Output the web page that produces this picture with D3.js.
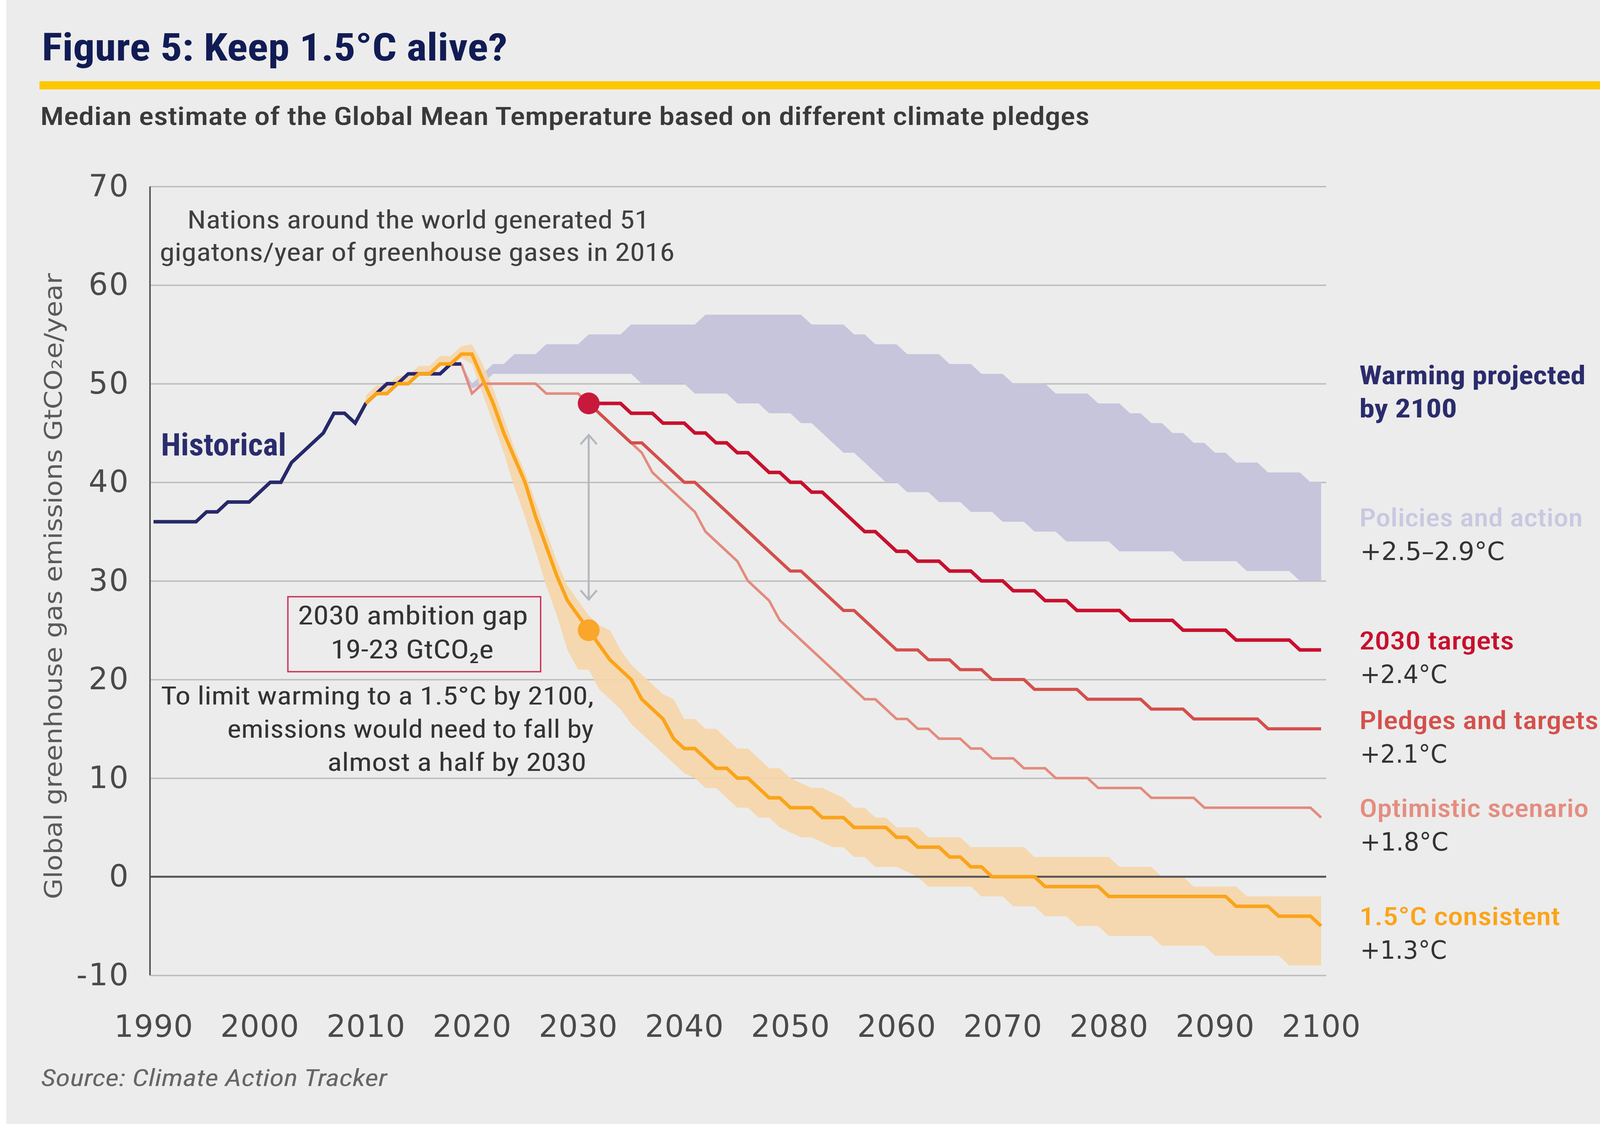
<!DOCTYPE html>
<html>
<head>
<meta charset="utf-8">
<script src="https://cdn.jsdelivr.net/npm/d3@7"></script>
<style>
  html, body { margin: 0; padding: 0; background: #ffffff; }
  svg { display: block; }
</style>
</head>
<body>
<svg id="chart" width="4224" height="2891"></svg>
<script>
// ---- data (GtCO2e/year, one value per year) ----
var xTicks = [1990, 2000, 2010, 2020, 2030, 2040, 2050, 2060, 2070, 2080, 2090, 2100];
var yTicks = [-10, 0, 10, 20, 30, 40, 50, 60, 70];

var histStart = 1990;
var historical = [36, 36, 36, 36, 36, 37, 37, 38, 38, 38, 39, 40, 40, 42, 43, 44, 45, 47, 47, 46,
                  48, 49, 50, 50, 51, 51, 51, 51, 52, 52];

// current policies and action range
var policyStart = 2019;
var policyLow = [52, 49.5, 50, 51, 51, 51, 51, 51, 51, 51, 51, 51, 51, 51, 51, 51, 51,
                 50, 50, 50, 50, 50, 49, 49, 49, 49, 48, 48, 48, 47, 47, 47, 46, 46,
                 45, 44, 43, 43, 42, 41, 40, 40, 39, 39, 39, 38, 38, 38, 37, 37, 37,
                 36, 36, 36, 35, 35, 35, 34, 34, 34, 34, 34, 33, 33, 33, 33, 33, 33,
                 32, 32, 32, 32, 32, 32, 31, 31, 31, 31, 31, 30, 30, 30];
var policyHigh = [52, 50, 51, 52, 52, 53, 53, 53, 54, 54, 54, 54, 55, 55, 55, 55,
                  56, 56, 56, 56, 56, 56, 56, 57, 57, 57, 57, 57, 57, 57, 57, 57, 57,
                  56, 56, 56, 56, 55, 55, 54, 54, 54, 53, 53, 53, 53, 52, 52, 52,
                  51, 51, 51, 50, 50, 50, 50, 49, 49, 49, 49, 48, 48, 48, 47, 47,
                  46, 46, 45, 45, 44, 44, 43, 43, 42, 42, 42, 41, 41, 41, 41, 40, 40];

// path shared by the pledge scenarios up to 2031
var sharedStart = 2019;
var sharedPath = [52, 49, 50, 50, 50, 50, 50, 50, 49, 49, 49, 49, 48];

var scenStart = 2031;
var targets2030 = [48, 48, 48, 48, 47, 47, 47, 46, 46, 46, 45, 45, 44, 44, 43, 43, 42, 41, 41, 40,
                   40, 39, 39, 38, 37, 36, 35, 35, 34, 33, 33, 32, 32, 32, 31, 31, 31, 30, 30, 30,
                   29, 29, 29, 28, 28, 28, 27, 27, 27, 27, 27, 26, 26, 26, 26, 26, 25, 25, 25, 25,
                   25, 24, 24, 24, 24, 24, 24, 23, 23, 23];
var pledges = [48, 47, 46, 45, 44, 44, 43, 42, 41, 40, 40, 39, 38, 37, 36, 35, 34, 33, 32, 31,
               31, 30, 29, 28, 27, 27, 26, 25, 24, 23, 23, 23, 22, 22, 22, 21, 21, 21, 20, 20,
               20, 20, 19, 19, 19, 19, 19, 18, 18, 18, 18, 18, 18, 17, 17, 17, 17, 16, 16, 16,
               16, 16, 16, 16, 15, 15, 15, 15, 15, 15];
var optimistic = [48, 47, 46, 45, 44, 43, 41, 40, 39, 38, 37, 35, 34, 33, 32, 30, 29, 28, 26, 25,
                  24, 23, 22, 21, 20, 19, 18, 18, 17, 16, 16, 15, 15, 14, 14, 14, 13, 13, 12, 12,
                  12, 11, 11, 11, 10, 10, 10, 10, 9, 9, 9, 9, 9, 8, 8, 8, 8, 8, 7, 7,
                  7, 7, 7, 7, 7, 7, 7, 7, 7, 6];

// 1.5C consistent pathway: median and range
var c15Start = 2010;
var c15Mid = [48, 49, 49, 50, 50, 51, 51, 52, 52, 53,
              53, 50.5, 48, 45, 42.5, 40, 36.5, 33.5, 30.5, 28,
              26.5, 25, 23.5, 22, 21, 20, 18, 17, 16, 14,
              13, 13, 12, 11, 11, 10, 10, 9, 8, 8,
              7, 7, 7, 6, 6, 6, 5, 5, 5, 5,
              4, 4, 3, 3, 3, 2, 2, 1, 1, 0,
              0, 0, 0, 0, -1, -1, -1, -1, -1, -1,
              -2, -2, -2, -2, -2, -2, -2, -2, -2, -2,
              -2, -2, -3, -3, -3, -3, -4, -4, -4, -4, -5];
var c15High = [48.8, 49.8, 49.8, 50.8, 50.8, 51.8, 51.8, 52.8, 52.8, 53.8,
               54, 52, 49.5, 46.5, 43.5, 41, 38, 35, 32, 29.5,
               28, 26.5, 25.5, 25, 23, 21.5, 20.5, 19.5, 18.5, 18,
               16, 16, 15, 15, 14, 13, 13, 12, 11, 11,
               10, 9.5, 9, 9, 8.5, 8, 7, 7, 6, 6,
               5, 5, 5, 4, 4, 4, 4, 3, 3, 3,
               3, 3, 3, 2, 2, 2, 2, 2, 2, 2,
               2, 1, 1, 1, 1, 0, 0, 0, -1, -1,
               -1, -1, -1, -2, -2, -2, -2, -2, -2, -2, -2];
var c15Low = [47.8, 48.8, 48.8, 49.8, 49.8, 50.8, 50.8, 51.8, 51.8, 52.6,
              52, 49, 46, 43, 39.5, 36.5, 33, 29.5, 26.5, 23,
              21, 21, 19, 18, 17, 15.5, 14.5, 13.5, 12.5, 11.5,
              10.5, 10, 9, 9, 8, 7, 7, 6, 6, 5,
              4.5, 4, 4, 3.5, 3, 3, 2, 2, 1, 1,
              1, 0.5, 0, -1, -1, -1, -1, -1, -2, -2,
              -2, -3, -3, -3, -4, -4, -4, -5, -5, -5,
              -6, -6, -6, -6, -6, -7, -7, -7, -7, -7,
              -8, -8, -8, -8, -8, -8, -8, -9, -9, -9, -9];

// 2030 ambition gap marker
var gapYear = 2031;
var gapArrow = [44.8, 28.1];

var scenarioNames = ["Warming projected\nby 2100", "Policies and action", "2030 targets",
                     "Pledges and targets", "Optimistic scenario", "1.5\u00B0C consistent"];
var scenarioTemps = ["", "+2.5\u20132.9\u00B0C", "+2.4\u00B0C", "+2.1\u00B0C", "+1.8\u00B0C", "+1.3\u00B0C"];

// ---- setup ----
var svg = d3.select("#chart");
var narrow = "'Liberation Sans Narrow', 'Arial Narrow', 'Roboto Condensed', Roboto, 'Liberation Sans', Arial, sans-serif";
var wide = "'DejaVu Sans', Verdana, sans-serif";

var x = d3.scaleLinear().domain([1990, 2100]).range([393, 3382]);
var y = d3.scaleLinear().domain([-10, 70]).range([2497.5, 477.5]);
var axisX = 384, gridEnd = 3395;

function pts(start, arr) { return arr.map(function(v, i) { return [start + i, v]; }); }
function band(start, lo, hi) { return lo.map(function(v, i) { return { yr: start + i, lo: v, hi: hi[i] }; }); }

// squeeze or stretch text to the measured width of the original
function fit(sel, w) {
  sel.each(function() {
    var len = this.getComputedTextLength();
    if (Math.abs(len - w) > 2) d3.select(this).attr("textLength", w).attr("lengthAdjust", "spacingAndGlyphs");
  });
  return sel;
}

// panel background
svg.append("rect").attr("x", 16).attr("y", 0).attr("width", 4195).attr("height", 2878).attr("fill", "#ececec");

// title block
fit(svg.append("text").attr("x", 107).attr("y", 155)
  .style("font-family", narrow).style("font-size", "98px").style("font-weight", "bold")
  .attr("fill", "#111c55").text("Figure 5: Keep 1.5\u00B0C alive?"), 1192);
svg.append("rect").attr("x", 101).attr("y", 208).attr("width", 4021).attr("height", 21).attr("fill", "#fcc800");
fit(svg.append("text").attr("x", 103).attr("y", 320)
  .style("font-family", narrow).style("font-size", "64px").style("font-weight", 500)
  .attr("fill", "#3a3a3a").text("Median estimate of the Global Mean Temperature based on different climate pledges"), 2686);

// y axis with gridlines
var yAxis = svg.append("g").attr("transform", "translate(" + axisX + ",0)")
  .call(d3.axisLeft(y).tickValues(yTicks).tickSize(-(gridEnd - axisX)).tickPadding(52)
    .tickFormat(function(d) { return String(d); }));
yAxis.select(".domain").remove();
yAxis.selectAll(".tick line").attr("stroke", "#bcbcbc").attr("stroke-width", 3.5);
yAxis.selectAll(".tick text").style("font-family", wide).style("font-size", "78px")
  .style("letter-spacing", "3px").attr("fill", "#4a4a4a");

// x axis labels
var xAxis = svg.append("g").attr("transform", "translate(0," + y(-10) + ")")
  .call(d3.axisBottom(x).tickValues(xTicks).tickSize(0).tickPadding(102)
    .tickFormat(function(d) { return String(d); }));
xAxis.select(".domain").remove();
xAxis.selectAll(".tick text").style("font-family", wide).style("font-size", "78px")
  .style("letter-spacing", "1px").attr("fill", "#4a4a4a");

// y axis title
fit(svg.append("text").attr("transform", "translate(158,1501) rotate(-90)").attr("text-anchor", "middle")
  .style("font-family", wide).style("font-size", "62px").attr("fill", "#5a5a5a")
  .text("Global greenhouse gas emissions GtCO\u2082e/year"), 1603);

// ---- bands ----
var area = d3.area().x(function(d) { return x(d.yr); }).y0(function(d) { return y(d.lo); }).y1(function(d) { return y(d.hi); });
svg.append("path").datum(band(policyStart, policyLow, policyHigh)).attr("d", area).attr("fill", "#c6c5dc");
svg.append("path").datum(band(c15Start, c15Low, c15High)).attr("d", area).attr("fill", "#f5d6a9").attr("fill-opacity", 0.92);

// zero line and vertical axis on top of bands
svg.append("line").attr("x1", axisX).attr("x2", gridEnd).attr("y1", y(0)).attr("y2", y(0))
  .attr("stroke", "#555555").attr("stroke-width", 5);
svg.append("line").attr("x1", axisX).attr("x2", axisX).attr("y1", y(70)).attr("y2", y(-10))
  .attr("stroke", "#555555").attr("stroke-width", 4);

// ---- lines ----
var line = d3.line().x(function(d) { return x(d[0]); }).y(function(d) { return y(d[1]); });
function drawLine(data, color, w) {
  svg.append("path").datum(data).attr("d", line).attr("fill", "none")
    .attr("stroke", color).attr("stroke-width", w).attr("stroke-linejoin", "miter");
}
drawLine(pts(sharedStart, sharedPath), "#e38b7d", 6.5);
drawLine(pts(scenStart, optimistic), "#e38b7d", 6.5);
drawLine(pts(scenStart, pledges), "#d44f4b", 8);
drawLine(pts(scenStart, targets2030), "#c8102e", 9);
drawLine(pts(histStart, historical), "#27286b", 9);
drawLine(pts(c15Start, c15Mid), "#fba41a", 9);

// markers at the 2030 gap
svg.append("circle").attr("cx", x(gapYear)).attr("cy", y(targets2030[0])).attr("r", 28).attr("fill", "#c8193c");
svg.append("circle").attr("cx", x(gapYear)).attr("cy", y(c15Mid[gapYear - c15Start])).attr("r", 28).attr("fill", "#f9a62a");

// double arrow
var ax = x(gapYear), aTop = y(gapArrow[0]), aBot = y(gapArrow[1]);
svg.append("path")
  .attr("d", "M" + ax + "," + aTop + "V" + aBot +
             "M" + (ax - 21) + "," + (aTop + 24) + "L" + ax + "," + aTop + "L" + (ax + 21) + "," + (aTop + 24) +
             "M" + (ax - 21) + "," + (aBot - 24) + "L" + ax + "," + aBot + "L" + (ax + 21) + "," + (aBot - 24))
  .attr("fill", "none").attr("stroke", "#b4b7bd").attr("stroke-width", 5);

// ---- annotations ----
function note(tx, ty, anchor, size, weight, color, str, w) {
  var t = svg.append("text").attr("x", tx).attr("y", ty).attr("text-anchor", anchor)
    .style("font-family", narrow).style("font-size", size + "px").style("font-weight", weight)
    .attr("fill", color).text(str);
  if (w) fit(t, w);
  return t;
}
note(1071, 585, "middle", 64, "normal", "#3f3f3f", "Nations around the world generated 51", 1183);
note(1068, 668, "middle", 64, "normal", "#3f3f3f", "gigatons/year of greenhouse gases in 2016", 1318);
note(412, 1166, "start", 80, "bold", "#2b2c6c", "Historical", 321);

svg.append("rect").attr("x", 737).attr("y", 1528).attr("width", 647).attr("height", 192)
  .attr("fill", "none").attr("stroke", "#cc3355").attr("stroke-width", 3.5);
note(1057, 1599, "middle", 66, "normal", "#333333", "2030 ambition gap", 589);
note(1055, 1686, "middle", 66, "normal", "#333333", "19-23 GtCO\u2082e", 417);

note(1520, 1804, "end", 64, "normal", "#333333", "To limit warming to a 1.5\u00B0C by 2100,", 1108);
note(1520, 1889, "end", 64, "normal", "#333333", "emissions would need to fall by", 938);
note(1501, 1974, "end", 64, "normal", "#333333", "almost a half by 2030", 663);

// right hand labels
var labelX = 3480;
note(labelX, 984, "start", 66, "bold", "#2b2c6c", scenarioNames[0].split("\n")[0], 579);
note(labelX, 1069, "start", 66, "bold", "#2b2c6c", scenarioNames[0].split("\n")[1], 250);

var labelLayout = [
  { i: 1, y: 1348, w: 572, color: "#c9c8e2", tw: 370 },
  { i: 2, y: 1663, w: 396, color: "#c8102e", tw: 223 },
  { i: 3, y: 1867, w: 612, color: "#d4504c", tw: 223 },
  { i: 4, y: 2092, w: 587, color: "#e48d80", tw: 226 },
  { i: 5, y: 2369, w: 514, color: "#fba41a", tw: 222 }
];
labelLayout.forEach(function(l) {
  note(labelX, l.y, "start", 64, 500, l.color, scenarioNames[l.i], l.w);
  fit(svg.append("text").attr("x", labelX + 2).attr("y", l.y + 86)
    .style("font-family", wide).style("font-size", "64px").attr("fill", "#333333")
    .text(scenarioTemps[l.i]), l.tw);
});

// source
fit(svg.append("text").attr("x", 105).attr("y", 2781)
  .style("font-family", narrow).style("font-size", "60px").style("font-style", "italic")
  .attr("fill", "#666666").text("Source: Climate Action Tracker"), 886);
</script>
</body>
</html>
